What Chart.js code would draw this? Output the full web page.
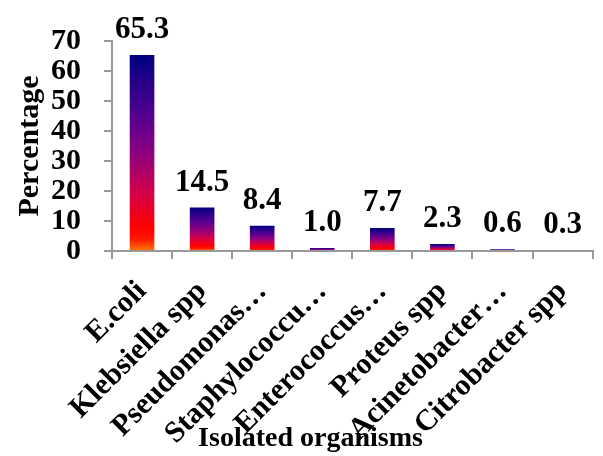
<!DOCTYPE html>
<html>
<head>
<meta charset="utf-8">
<script src="https://cdn.jsdelivr.net/npm/chart.js@4.4.0/dist/chart.umd.min.js"></script>
<style>
html,body{margin:0;padding:0;background:#fff;}
#wrap{width:603px;height:456px;position:relative;}
</style>
</head>
<body>
<div id="wrap"><canvas id="c" width="603" height="456"></canvas></div>
<script>
const categories = ["E.coli","Klebsiella spp","Pseudomonas…","Staphylococcu…","Enterococcus…","Proteus spp","Acinetobacter…","Citrobacter spp"];
const percentages = [65.3, 14.5, 8.4, 1.0, 7.7, 2.3, 0.6, 0.3];
const yTicks = [0,10,20,30,40,50,60,70];
const xTitle = 'Isolated organisms';
const yTitle = 'Percentage';

const FONT = "'Liberation Serif', 'Times New Roman', serif";

function barGradient(context){
  const chart = context.chart;
  const {ctx, chartArea} = chart;
  if (!chartArea || context.type !== 'data') return '#c00040';
  const ys = chart.scales.y;
  const base = ys.getPixelForValue(0);
  const top = ys.getPixelForValue(context.parsed.y);
  if (!isFinite(top) || Math.abs(base-top) < 0.5) return '#d00040';
  const g = ctx.createLinearGradient(0, base, 0, top);
  g.addColorStop(0, '#ff7a00');
  g.addColorStop(0.06, '#ff1800');
  g.addColorStop(0.12, '#ff0000');
  g.addColorStop(0.3, '#d2004a');
  g.addColorStop(0.5, '#8c0080');
  g.addColorStop(0.7, '#520090');
  g.addColorStop(1, '#000080');
  return g;
}

const valueLabels = {
  id: 'valueLabels',
  afterDatasetsDraw(chart){
    const ctx = chart.ctx;
    const meta = chart.getDatasetMeta(0);
    ctx.save();
    ctx.font = "bold 31px " + FONT;
    ctx.fillStyle = '#000';
    ctx.textAlign = 'center';
    ctx.textBaseline = 'alphabetic';
    meta.data.forEach((bar, i) => {
      ctx.fillText(percentages[i].toFixed(1), bar.x, bar.y - 17);
    });
    ctx.restore();
  }
};

// x-axis title, centred under the whole figure (as in the original)
const xAxisTitle = {
  id: 'xAxisTitle',
  afterDraw(chart){
    const ctx = chart.ctx;
    ctx.save();
    ctx.font = "bold 28px " + FONT;
    ctx.fillStyle = '#000';
    ctx.textAlign = 'center';
    ctx.textBaseline = 'alphabetic';
    ctx.fillText(xTitle, chart.width / 2 + 9, chart.height - 10);
    ctx.restore();
  }
};

new Chart(document.getElementById('c'), {
  type: 'bar',
  data: {
    labels: categories,
    datasets: [{
      data: percentages,
      backgroundColor: barGradient,
      borderWidth: 0,
      barPercentage: 0.41,
      categoryPercentage: 1.0
    }]
  },
  options: {
    responsive: false,
    animation: false,
    devicePixelRatio: 1,
    layout: { padding: { top: 40, right: 0, left: 0, bottom: 0 } },
    plugins: {
      legend: { display: false },
      tooltip: { enabled: false },
      title: { display: false }
    },
    scales: {
      x: {
        grid: { display: true, drawOnChartArea: false, offset: true, tickLength: 8, color: '#999', lineWidth: 2 },
        border: { display: true, color: '#999', width: 2 },
        ticks: {
          color: '#000',
          font: { family: FONT, size: 30, weight: 'bold' },
          minRotation: 45, maxRotation: 45, autoSkip: false, padding: 15
        },
        afterFit(scale){ scale.height = 205; }
      },
      y: {
        min: 0, max: 70,
        afterBuildTicks(scale){ scale.ticks = yTicks.map(v => ({value: v})); },
        grid: { display: true, drawOnChartArea: false, tickLength: 8, color: '#999', lineWidth: 2 },
        border: { display: true, color: '#999', width: 2 },
        ticks: {
          color: '#000', padding: 23, autoSkip: false,
          font: { family: FONT, size: 30, weight: 'bold' }
        },
        title: {
          display: true, text: yTitle, color: '#000',
          font: { family: FONT, size: 30, weight: 'bold' },
          padding: { top: 12, bottom: 0 }
        },
        afterFit(scale){ scale.width = 112; }
      }
    }
  },
  plugins: [valueLabels, xAxisTitle]
});
</script>
</body>
</html>
